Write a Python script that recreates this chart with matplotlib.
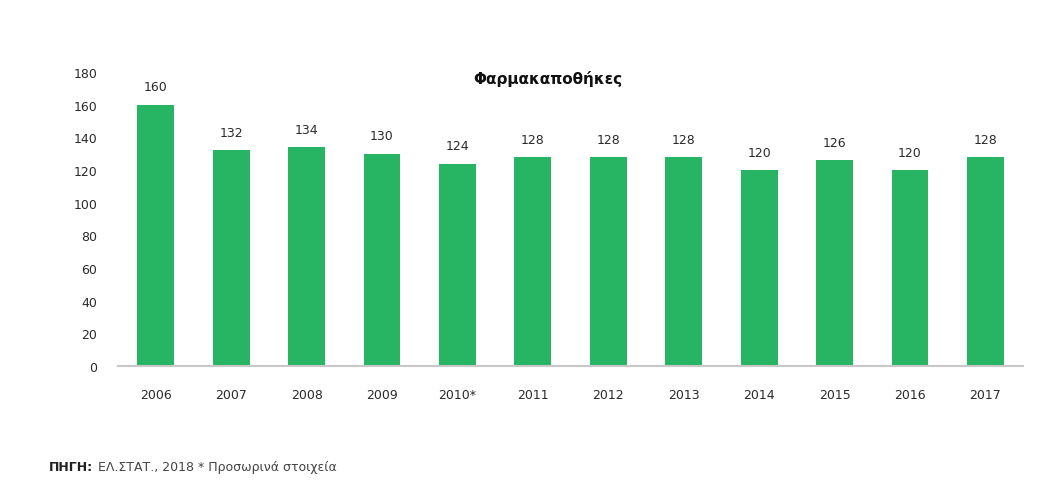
import matplotlib.pyplot as plt

years = ['2006', '2007', '2008', '2009', '2010*', '2011', '2012',
         '2013', '2014', '2015', '2016', '2017']
pharmacies = [160, 132, 134, 130, 124, 128, 128, 128, 120, 126, 120, 128]

plt.rcParams['font.family'] = ['DejaVu Sans']

fig = plt.figure(figsize=(10.5, 4.81), dpi=100)
ax = fig.add_axes([0.1124, 0.237, 0.862, 0.611])

x = range(len(years))
bars = ax.bar(x, pharmacies, width=0.49, color='#27b463', zorder=2)

for xi, v in zip(x, pharmacies):
    ax.text(xi, v + 7, str(v), ha='center', va='bottom', fontsize=9, color='#2a2a2a')

ax.set_xlim(-0.5, 11.5)
ax.set_ylim(0, 180)
ax.set_yticks(range(0, 181, 20))
ax.set_xticks(list(x))
ax.set_xticklabels(years)

for side in ['top', 'right', 'left']:
    ax.spines[side].set_visible(False)
ax.spines['bottom'].set_color('#c8c8c8')
ax.spines['bottom'].set_linewidth(1.5)

ax.tick_params(axis='both', length=0, labelsize=9, colors='#2a2a2a')
ax.tick_params(axis='y', pad=15)
ax.tick_params(axis='x', pad=16)

fig.text(0.522, 0.835, 'Φαρμακαποθήκες', ha='center', va='center',
         fontsize=11, fontweight='bold', color='#111111')

# source line: bold label followed by plain text
src = fig.text(0.047, 0.028, 'ΠΗΓΗ:', ha='left', va='center', fontsize=9,
               fontweight='bold', color='#222222')
ax.annotate('ΕΛ.ΣΤΑΤ., 2018 * Προσωρινά στοιχεία', xy=(1, 0.5), xycoords=src,
            xytext=(3, 0), textcoords='offset points', ha='left', va='center',
            fontsize=9, color='#444444')

fig.savefig('out.png', dpi=100)
